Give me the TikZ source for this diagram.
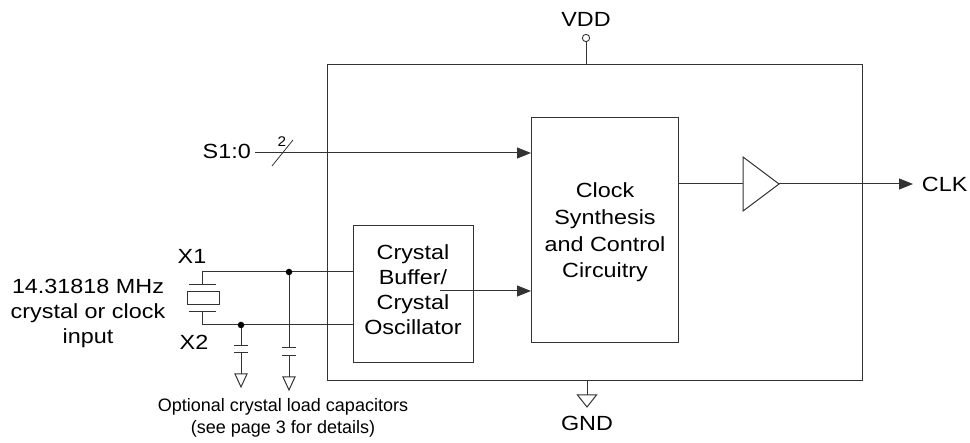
\documentclass[tikz,border=0pt]{standalone}
\usepackage{fontspec}
\setmainfont{Liberation Sans}
\usetikzlibrary{arrows.meta}
\begin{document}
\begin{tikzpicture}[x=1pt,y=-1pt,
  wire/.style={line width=1pt,draw=black!80},
  sig/.style={wire,-{Triangle[length=14pt,width=11pt]}},
  lbl/.style={font=\fontsize{20.5}{25}\selectfont,inner sep=0pt,xscale=1.14},
  blk/.style={draw=black!80,line width=1pt},
  dot/.style={circle,fill=black,inner sep=0pt,minimum size=6.5pt}]
\useasboundingbox (0,0) rectangle (970,443);
% outer chip box
\draw[blk] (327,65) rectangle (862,381);
% blocks
\node[blk,minimum width=120pt,minimum height=137pt,inner sep=0pt] (osc) at (413,294.5) {};
\node[lbl,align=center] (osctxt) at (413,289.2) {Crystal\\Buffer/\\Crystal\\Oscillator};
\node[blk,minimum width=147pt,minimum height=225pt,inner sep=0pt] (syn) at (605,230.5) {};
\node[lbl,align=center,font=\fontsize{20.5}{26.7}\selectfont] (syntxt) at (605,232.6) {Clock\\Synthesis\\and Control\\Circuitry};
% VDD
\coordinate (vddtop) at (586,65);
\node[circle,draw=black!80,line width=0.9pt,minimum size=7.3pt,inner sep=0pt] (vddc) at (586,38) {};
\draw[wire] (vddc.south) -- (vddtop);
\node[lbl] (vdd) at (586,19.7) {VDD};
% GND
\coordinate (gndtop) at (587,381);
\node[lbl] (gnd) at (587,423) {GND};
\draw[wire] (gndtop) -- (587,395);
\draw[wire] (577.5,395) -- (596.5,395) -- (587,407) -- cycle;
% S1:0
\node[lbl,anchor=east] (s10) at (251,151.3) {S1:0};
\coordinate (s10in) at (531,153);
\draw[sig] (255,153) coordinate (s10s) -- (s10in);
\draw[line width=0.8pt,draw=black!80] (272,166) -- (293,140);
\node[font=\fontsize{14}{16}\selectfont,inner sep=0pt,xscale=1.1] (two) at (282,142) {2};
% buffer
\coordinate (bufL) at (743,184);
\draw[blk] (743,157) -- (779,184) -- (743,211) -- cycle;
\draw[wire] (syn.east |- bufL) -- (bufL);
\node[lbl,anchor=west] (clk) at (921.7,184) {CLK};
\draw[sig] (779,184) -- (913,184) coordinate (clkin);
% crystal buffer to synthesis
\draw[sig] (440,291) -- (syn.west |- 0,291);
% X1 / X2 wires
\coordinate (x1) at (202,272);
\coordinate (x2) at (202,325);
\draw[wire] (x1) -- (osc.west |- x1);
\draw[wire] (x2) -- (osc.west |- x2);
\node[lbl] (x1t) at (192,256) {X1};
\node[lbl] (x2t) at (194,342) {X2};
% crystal
\draw[wire] (x1) -- (202,285);
\draw[wire] (189,285) -- (216,285);
\draw[wire] (187,292) rectangle (219,305);
\draw[wire] (189,312) -- (216,312);
\draw[wire] (202,312) -- (x2);
% caps
\node[dot] (d1) at (289,272) {};
\node[dot] (d2) at (241,325) {};
\draw[wire] (d2) -- (241,346);
\draw[wire] (234,346) -- (248,346);
\draw[wire] (234,353) -- (248,353);
\draw[wire] (241,353) -- (241,374);
\draw[wire] (235,374) -- (247,374) -- (241,387) -- cycle;
\draw[wire] (d1) -- (289,348);
\draw[wire] (282,348) -- (296,348);
\draw[wire] (282,356) -- (296,356);
\draw[wire] (289,356) -- (289,377);
\draw[wire] (283,377) -- (295,377) -- (289,390) -- cycle;
% texts
\node[lbl,align=center,font=\fontsize{20.5}{25}\selectfont] (freq) at (88,313) {14.31818 MHz\\crystal or clock\\input};
\node[align=center,inner sep=0pt,font=\fontsize{18}{21.3}\selectfont] (opt) at (283,417.7) {Optional crystal load capacitors\\(see page 3 for details)};
\end{tikzpicture}
\end{document}
